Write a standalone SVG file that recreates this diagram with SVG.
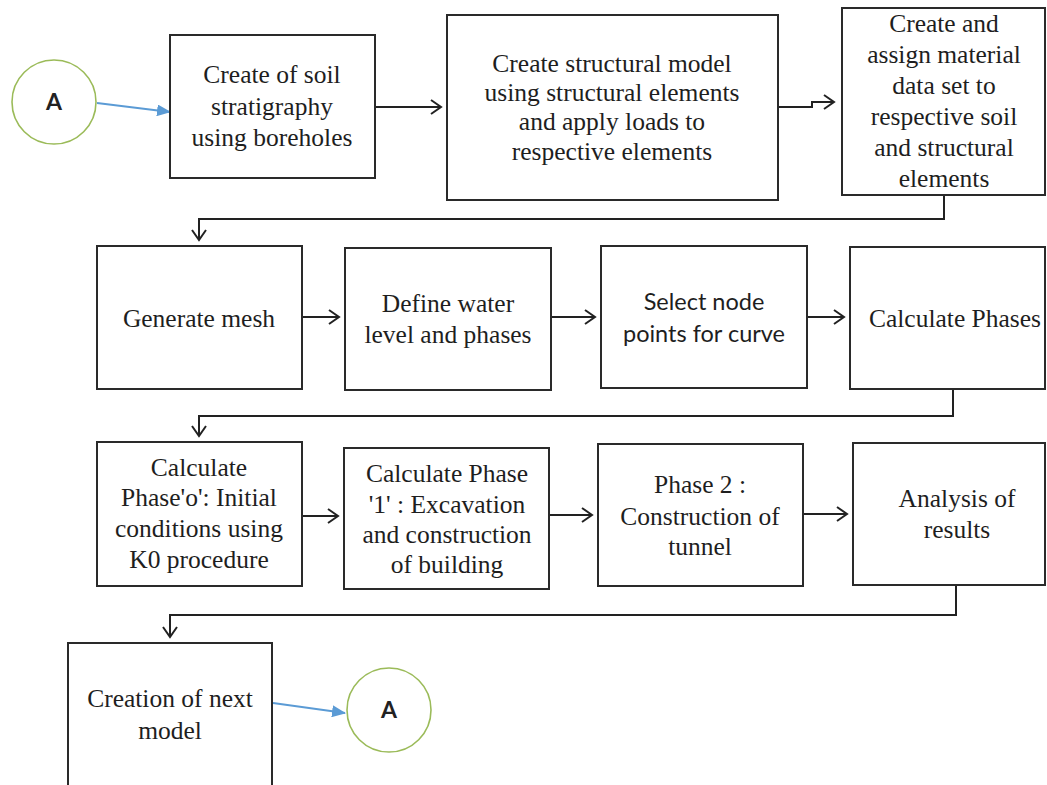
<svg xmlns="http://www.w3.org/2000/svg" width="1047" height="785" viewBox="0 0 1047 785">
<style>
.box{fill:#fff;stroke:#2a2a2a;stroke-width:2}
.t{font-family:"Liberation Serif","Times New Roman",serif;font-size:25.5px;fill:#1e1e1e;text-anchor:middle}
.s{font-family:Lato,"Liberation Sans",sans-serif;font-size:23.5px;fill:#1e1e1e;text-anchor:middle}
.circ{fill:#fff;stroke:#9bbb59;stroke-width:1.6}
.ct{font-family:Lato,"Liberation Sans",sans-serif;font-size:23px;font-weight:700;fill:#222;text-anchor:middle}
.c{fill:none;stroke:#222;stroke-width:2;marker-end:url(#open)}
.b{fill:none;stroke:#5b9bd5;stroke-width:1.8;marker-end:url(#blue)}
</style>
<defs>
<marker id="open" markerUnits="userSpaceOnUse" markerWidth="14" markerHeight="16" refX="11" refY="8" orient="auto" viewBox="0 0 14 16">
<path d="M1,1 L11,8 L1,15" fill="none" stroke="#222" stroke-width="2"/>
</marker>
<marker id="blue" markerUnits="userSpaceOnUse" markerWidth="14" markerHeight="12" refX="13" refY="6" orient="auto" viewBox="0 0 14 12">
<path d="M0,0 L14,6 L0,12 Z" fill="#5b9bd5"/>
</marker>
</defs>
<rect width="1047" height="785" fill="#fff"/>
<g id="connectors">
<path class="b" d="M97,103 L170,112"/>
<path class="c" d="M375,107 H441"/>
<path class="c" d="M778,107 H812 V102 H834"/>
<path class="c" d="M944,195 V219 H199 V240"/>
<path class="c" d="M302,317 H339"/>
<path class="c" d="M551,317 H595"/>
<path class="c" d="M807,317 H844"/>
<path class="c" d="M953,389 V416 H199 V436"/>
<path class="c" d="M302,516 H338"/>
<path class="c" d="M549,515 H592"/>
<path class="c" d="M803,514 H847"/>
<path class="c" d="M956,585 V615 H170 V637"/>
<path class="b" d="M273,703 L345,713"/>
</g>
<g id="circleTop">
<circle class="circ" cx="54" cy="102" r="42"/>
<text class="ct" x="54" y="110">A</text>
</g>
<g id="n1">
<rect class="box" x="170" y="35" width="205" height="143"/>
<text class="t" x="272" y="83">Create of soil</text>
<text class="t" x="272" y="115">stratigraphy</text>
<text class="t" x="272" y="146">using boreholes</text>
</g>
<g id="n2">
<rect class="box" x="447" y="15" width="331" height="185"/>
<text class="t" x="612" y="72">Create structural model</text>
<text class="t" x="612" y="101">using structural elements</text>
<text class="t" x="612" y="130">and apply loads to</text>
<text class="t" x="612" y="160">respective elements</text>
</g>
<g id="n3">
<rect class="box" x="842" y="8" width="203" height="187"/>
<text class="t" x="944" y="32">Create and</text>
<text class="t" x="944" y="63">assign material</text>
<text class="t" x="944" y="94">data set to</text>
<text class="t" x="944" y="125">respective soil</text>
<text class="t" x="944" y="156">and structural</text>
<text class="t" x="944" y="187">elements</text>
</g>
<g id="n4">
<rect class="box" x="97" y="246" width="205" height="143"/>
<text class="t" x="199" y="327">Generate mesh</text>
</g>
<g id="n5">
<rect class="box" x="345" y="248" width="206" height="142"/>
<text class="t" x="448" y="312">Define water</text>
<text class="t" x="448" y="343">level and phases</text>
</g>
<g id="n6">
<rect class="box" x="601" y="246" width="206" height="142"/>
<text class="s" x="704" y="310">Select node</text>
<text class="s" x="704" y="342">points for curve</text>
</g>
<g id="n7">
<rect class="box" x="850" y="247" width="195" height="142"/>
<text class="t" x="955" y="327">Calculate Phases</text>
</g>
<g id="n8">
<rect class="box" x="97" y="442" width="205" height="144"/>
<text class="t" x="199" y="476">Calculate</text>
<text class="t" x="199" y="506">Phase'o': Initial</text>
<text class="t" x="199" y="537">conditions using</text>
<text class="t" x="199" y="568">K0 procedure</text>
</g>
<g id="n9">
<rect class="box" x="344" y="448" width="205" height="141"/>
<text class="t" x="447" y="482">Calculate Phase</text>
<text class="t" x="447" y="513">'1' : Excavation</text>
<text class="t" x="447" y="543">and construction</text>
<text class="t" x="447" y="573">of building</text>
</g>
<g id="n10">
<rect class="box" x="598" y="444" width="205" height="142"/>
<text class="t" x="700" y="493">Phase 2 :</text>
<text class="t" x="700" y="525">Construction of</text>
<text class="t" x="700" y="555">tunnel</text>
</g>
<g id="n11">
<rect class="box" x="853" y="443" width="192" height="142"/>
<text class="t" x="957" y="507">Analysis of</text>
<text class="t" x="957" y="538">results</text>
</g>
<g id="n12">
<rect class="box" x="68" y="643" width="204" height="150"/>
<text class="t" x="170" y="707">Creation of next</text>
<text class="t" x="170" y="739">model</text>
</g>
<g id="circleBottom">
<circle class="circ" cx="389" cy="710" r="42"/>
<text class="ct" x="389" y="718">A</text>
</g>
</svg>
